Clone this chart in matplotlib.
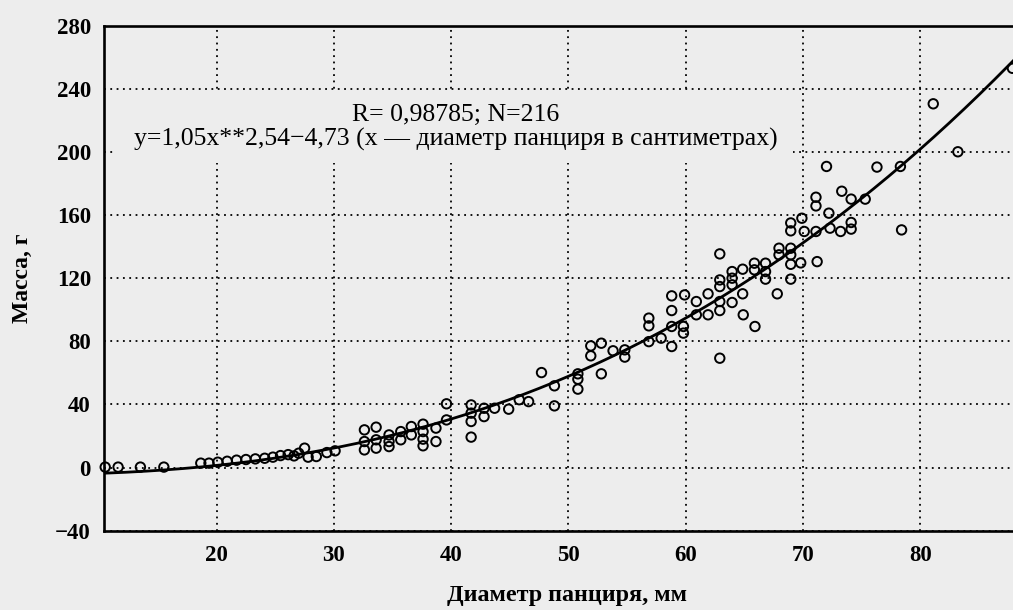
import numpy as np
import matplotlib
matplotlib.use('Agg')
import matplotlib.pyplot as plt
from matplotlib.patches import Rectangle

params = {
    'font.family': 'Liberation Serif',
    'font.size': 16,
}
matplotlib.rcParams.update(params)

# diameter (mm) / mass (g)
diam = [10.5, 11.6, 13.5, 15.5, 18.65, 19.35, 20.1, 20.9, 21.7, 22.5, 23.3, 24.1,
        24.8, 25.45, 26.1, 26.6, 27.0, 27.5, 27.8, 28.5, 29.4, 30.1,
        32.6, 33.6, 32.6, 32.6, 33.6, 33.6, 34.7, 34.7, 34.7, 35.7, 35.7, 36.6,
        36.6, 37.6, 37.6, 37.6, 37.6, 38.7, 38.7, 39.6, 39.6, 41.7, 41.7, 41.7,
        41.7, 42.8, 42.8, 43.7, 44.9, 45.8, 46.6, 47.7, 48.8, 48.8, 50.8, 50.8,
        50.8, 51.9, 51.9, 52.8, 52.8, 53.8, 54.8, 54.8, 56.85, 56.85, 56.85, 57.9,
        58.8, 58.8, 58.8, 58.8, 59.9, 59.8, 59.8, 60.9, 60.9, 61.9, 61.9, 62.9,
        62.9, 62.9, 62.9, 62.9, 62.9, 63.95, 63.95, 63.95, 63.95, 64.85, 64.85,
        64.9, 65.85, 65.85, 65.9, 66.8, 66.8, 66.8, 67.8, 67.95, 67.95, 68.95,
        68.95, 68.95, 68.95, 68.95, 68.95, 69.8, 69.9, 70.1, 71.1, 71.1, 71.1,
        71.2, 72.0, 72.2, 72.3, 73.2, 73.3, 74.1, 74.1, 74.1, 75.3, 76.3, 78.3,
        78.4, 81.1, 83.2, 87.85]
mass = [0.3, 0.3, 0.3, 0.3, 2.8, 2.8, 3.4, 4.0, 4.7, 5.1, 5.5, 5.9,
        6.6, 7.6, 8.2, 7.4, 9.1, 12.3, 6.6, 7.0, 9.5, 10.6,
        23.9, 25.6, 16.5, 11.2, 17.6, 12.3, 20.7, 16.5, 13.3, 22.8, 17.6, 26.0,
        20.7, 27.5, 22.8, 18.0, 13.8, 25.0, 16.5, 40.4, 30.2, 39.7, 34.5, 29.2,
        19.3, 37.6, 32.3, 37.6, 37.0, 43.0, 41.8, 60.2, 51.8, 39.1, 59.4, 56.0,
        49.7, 77.1, 70.8, 78.8, 59.4, 74.0, 74.6, 70.0, 94.7, 89.8, 79.8, 82.0,
        99.5, 89.4, 76.7, 108.8, 109.4, 89.4, 85.2, 105.2, 96.8, 110.1, 96.8, 135.4,
        118.9, 114.7, 105.2, 99.5, 69.3, 124.2, 120.0, 115.8, 104.6, 125.7, 110.1,
        96.8, 129.5, 125.3, 89.4, 129.5, 124.2, 119.4, 110.1, 139.0, 134.8, 155.0,
        150.0, 139.0, 134.8, 128.8, 119.4, 129.7, 158.0, 149.6, 171.3, 165.8, 149.6,
        130.5, 190.8, 161.2, 151.7, 149.6, 175.1, 170.1, 155.3, 151.1, 170.1, 190.4, 190.8,
        150.6, 230.5, 200.1, 253.0]

# fit printed on the chart: y = a*x**b + c, x in cm
fit_a, fit_b, fit_c = 1.05, 2.54, -4.73

xticks = [20, 30, 40, 50, 60, 70, 80]
yticks = [-40, 0, 40, 80, 120, 160, 200, 240, 280]

bg = '#ededed'
fig = plt.figure(figsize=(10.13, 6.10), dpi=100, facecolor=bg)
ax = fig.add_axes([0.1027, 0.130, 0.8973, 0.8279], facecolor=bg)

xs = np.linspace(10.4, 87.9, 300)
ax.plot(xs, fit_a*(xs/10.0)**fit_b + fit_c, color='black', lw=2.0, zorder=2)
ax.scatter(diam, mass, s=46, facecolors='none', edgecolors='black',
           linewidths=1.4, zorder=3, clip_on=False)

ax.set_xlim(10.4, 87.9)
ax.set_ylim(-40, 280)
ax.set_xticks(xticks)
ax.set_yticks(yticks)
ax.tick_params(length=0, labelsize=16.5)
ax.tick_params(axis='x', pad=10.5)
ax.tick_params(axis='y', pad=9.4)
for lab in ax.get_xticklabels() + ax.get_yticklabels():
    lab.set_fontweight('bold')

ax.set_axisbelow(True)
ax.grid(True, color='black', lw=1.3, linestyle=(0, (1, 2.5)))
for s in ['left', 'bottom', 'top']:
    ax.spines[s].set_linewidth(1.9)
ax.spines['right'].set_visible(False)

# blank area behind the equation
ax.add_patch(Rectangle((11.3, 193), 57.8, 44.5, facecolor=bg, edgecolor='none', zorder=1))
ax.text(40.4, 223.4, 'R= 0,98785; N=216', ha='center', va='center', fontsize=18.5, zorder=4)
ax.text(40.4, 207.6, 'y=1,05x**2,54\u22124,73 (x \u2014 диаметр панциря в сантиметрах)',
        ha='center', va='center', fontsize=18.5, zorder=4)

ax.set_xlabel('Диаметр панциря, мм', fontsize=17.4, fontweight='bold')
ax.set_ylabel('Масса, г', fontsize=17, fontweight='bold')
ax.xaxis.set_label_coords(0.509, -0.1075)
ax.yaxis.set_label_coords(-0.078, 0.5)

plt.savefig('out.png', dpi=100, facecolor=bg)
